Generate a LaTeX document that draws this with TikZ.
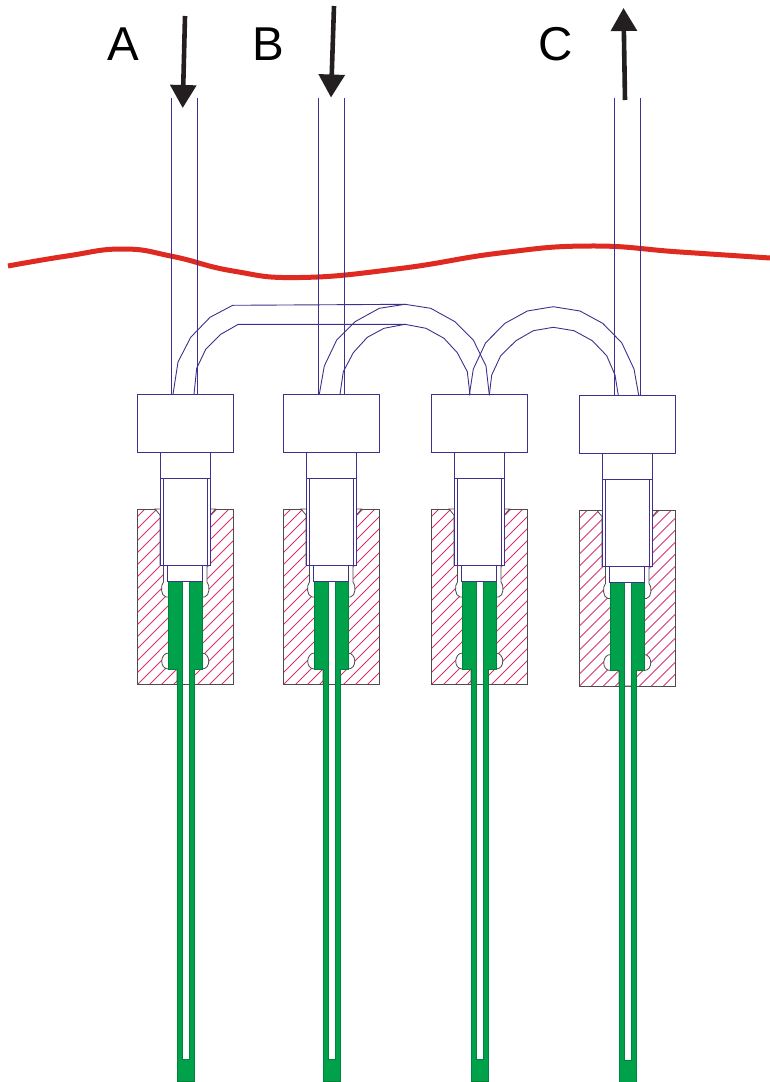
\documentclass[tikz,border=0pt]{standalone}
\usepackage{fontspec}
\setmainfont{Liberation Sans}
\usetikzlibrary{arrows.meta}
\definecolor{tubeblue}{RGB}{62,48,140}
\definecolor{hatchred}{RGB}{215,50,115}
\definecolor{fillgreen}{RGB}{0,161,75}
\definecolor{wavered}{RGB}{222,42,32}
\definecolor{arrowblack}{RGB}{35,31,32}
\begin{document}
\begin{tikzpicture}[x=1pt,y=-1pt]
\tikzstyle{tube_style} = [tubeblue, line width=0.9]
\tikzstyle{body_style} = [draw=tubeblue, line width=0.9, fill=white]
\tikzstyle{block_style} = [draw=black!70, line width=0.8]
\tikzstyle{hatch_style} = [draw=hatchred, line width=0.8]
\tikzstyle{green_style} = [fill=fillgreen, draw=fillgreen!80!black, line width=0.3]
\tikzstyle{flow_style} = [arrowblack, line width=4.6, -{Triangle[width=25.5pt,length=23pt]}]
\tikzstyle{label_style} = [font=\fontsize{47.5}{47.5}\selectfont, text=black, inner sep=0]
\useasboundingbox (0,0) rectangle (770,1082);

    % red level
    \draw[wavered, line width=5] plot[smooth, tension=0.8] coordinates {(8,266) (67,256) (123,249) (173,256.5) (233,271) (300,277.5) (400,268.5) (500,253) (590,246) (680,252) (770,258)};

    % one cell per column
    \foreach \name/\xs/\ys in {one/0/0, two/146/0, three/294/0, four/442/1.5} {
    \begin{scope}[shift={(\xs,\ys)}]
        \begin{scope}
            \clip (137.5,509) rectangle (233.5,684.5);
            \draw[hatch_style] foreach \i in {-180,-168,...,100} {(137.5+\i,684.5) -- (313+\i,509)};
        \end{scope}
        \draw[block_style] (137.5,509) rectangle (233.5,684.5);
        % bore
        \draw[block_style, fill=white] (155,509) -- (160,515) -- (160,565) -- (163.5,565) -- (163.5,582)
            .. controls (160.5,585) and (160.5,596) .. (166,597) -- (168.5,597) -- (168.5,653)
            .. controls (160,653) and (159,669) .. (168.5,669) -- (177,669) -- (177,684.5)
            -- (194,684.5) -- (194,669) -- (202,669)
            .. controls (211.5,669) and (210.5,653) .. (202,653) -- (202,597) -- (204.5,597)
            .. controls (210,596) and (210,585) .. (207,582) -- (207,565) -- (210.5,565) -- (210.5,515) -- (215.5,509) -- cycle;
        % probe
        \draw[green_style] (168.5,581) -- (182,581) -- (182,1059) -- (189,1059) -- (189,581) -- (202,581)
            -- (202,669) -- (194,669) -- (194,1081) -- (177,1081) -- (177,669) -- (168.5,669) -- cycle;
        % fitting
        \draw[body_style] (160,452) rectangle (210.5,565);
        \draw[body_style] (163.5,478) rectangle (207,565);
        \draw[body_style] (160,478) -- (210.5,478);
        \draw[body_style] (167.5,565) rectangle (202,581);
        \node[body_style, minimum width=96pt, minimum height=58pt, inner sep=0, outer sep=0, anchor=north west] (cap\name) at (137.5,394) {};
    \end{scope}
    }

    % straight tubes
    \draw[tube_style] (171.5,98) -- (171.5,394);
    \draw[tube_style] (197.5,98) -- (197.5,394);
    \draw[tube_style] (318.5,98) -- (318.5,394);
    \draw[tube_style] (344.5,98) -- (344.5,394);
    \draw[tube_style] (614.5,98) -- (614.5,395);
    \draw[tube_style] (640.5,98) -- (640.5,395);

    % bent tubes
    \draw[tube_style] (173,394.3) -- (178,362) -- (190.7,337.3) -- (210,317.3) -- (232.7,305.3) -- (405,304.3) -- (430.7,308.3) -- (455,321.7) -- (473.3,340) -- (486,366) -- (489.3,395);
    \draw[tube_style] (194,394.3) -- (196.7,368.3) -- (205.7,349.3) -- (220.7,334.3) -- (238.3,324.3) -- (405,324.3) -- (426,328.3) -- (444,338.3) -- (457.3,352.7) -- (467.3,371.7) -- (470,395);
    \draw[tube_style] (319.3,394.3) -- (324.3,366) -- (336.7,340) -- (355,321.7) -- (379.3,308.3) -- (405,304.3);
    \draw[tube_style] (340,394.3) -- (343.3,371.7) -- (353.3,352.7) -- (367.3,337.3) -- (384,328.3) -- (405,324.3);
    \draw[tube_style] (469.3,395.3) -- (473.3,369) -- (485.7,342.7) -- (505,323.3) -- (527.3,311) -- (553.3,306.7) -- (580,311) -- (602.7,323.3) -- (621.7,342.7) -- (634,369) -- (638.7,395.3);
    \draw[tube_style] (489.3,395.3) -- (491.7,375) -- (500.7,355.7) -- (516,340.7) -- (533.3,330.7) -- (553.3,327.3) -- (574,330.7) -- (592.3,340.7) -- (606.7,355.7) -- (615,375) -- (618.3,395.3);

    % flow arrows
    \coordinate (a1) at (185,16);
    \coordinate (a2) at (182.7,108);
    \coordinate (b1) at (334,6);
    \coordinate (b2) at (331,97.5);
    \coordinate (c1) at (625,100);
    \coordinate (c2) at (623.5,8);
    \draw[flow_style] (a1) -- (a2);
    \draw[flow_style] (b1) -- (b2);
    \draw[flow_style] (c1) -- (c2);

    \node[label_style] (la) at (123.5,44) {A};
    \node[label_style] (lb) at (268,44) {B};
    \node[label_style] (lc) at (556,44) {C};
\end{tikzpicture}
\end{document}
